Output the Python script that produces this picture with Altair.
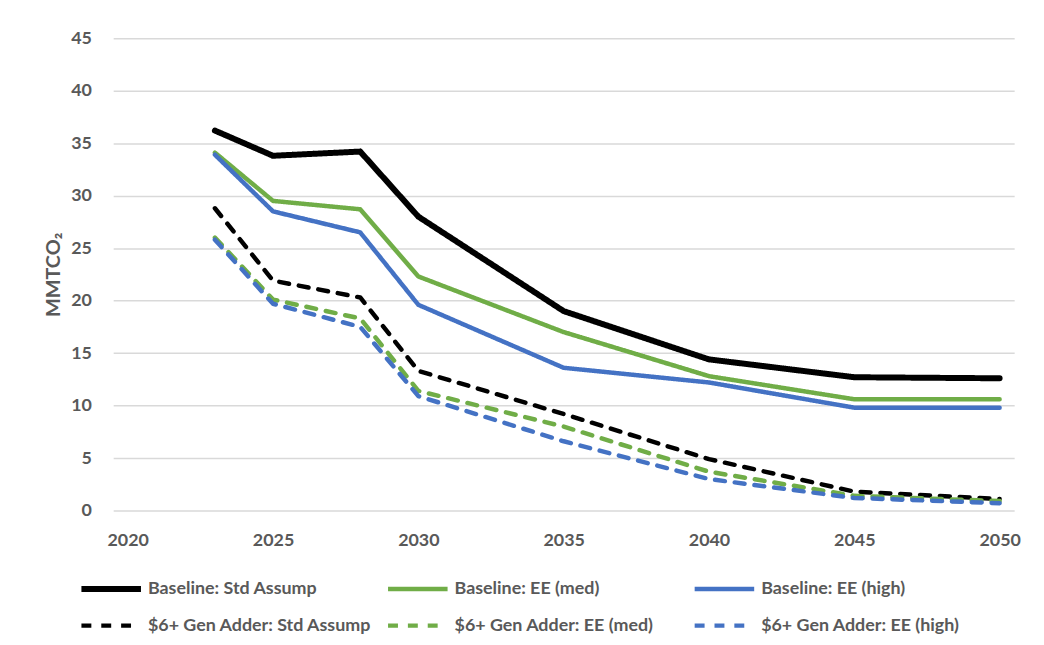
import altair as alt
import pandas as pd

years = [2023, 2025, 2028, 2030, 2035, 2040, 2045, 2050]
series_names = [
    "Baseline: Std Assump",
    "Baseline: EE (med)",
    "Baseline: EE (high)",
    "$6+ Gen Adder: Std Assump",
    "$6+ Gen Adder: EE (med)",
    "$6+ Gen Adder: EE (high)",
]
base_std = [36.2, 33.8, 34.2, 28.0, 19.0, 14.4, 12.7, 12.6]
base_med = [34.1, 29.5, 28.7, 22.3, 17.0, 12.8, 10.6, 10.6]
base_high = [33.9, 28.5, 26.5, 19.6, 13.6, 12.2, 9.8, 9.8]
adder_std = [28.8, 21.9, 20.3, 13.3, 9.2, 4.9, 1.8, 1.1]
adder_med = [26.0, 20.1, 18.3, 11.4, 8.0, 3.7, 1.4, 0.9]
adder_high = [25.8, 19.7, 17.5, 10.9, 6.6, 3.0, 1.2, 0.7]
x_ticks = [2020, 2025, 2030, 2035, 2040, 2045, 2050]
y_ticks = [0, 5, 10, 15, 20, 25, 30, 35, 40, 45]

colors = ["#000000", "#70ad47", "#4472c4", "#000000", "#70ad47", "#4472c4"]
dashes = [[1, 0], [1, 0], [1, 0], [10, 10], [10, 10], [10, 10]]
widths = [6, 4.5, 4.5, 4.5, 4.5, 4.5]

values = [base_std, base_med, base_high, adder_std, adder_med, adder_high]
rows = []
for i, (name, vals) in enumerate(zip(series_names, values)):
    for y, v in zip(years, vals):
        rows.append({"series": name, "order": i, "year": y, "value": v})
df = pd.DataFrame(rows)

FONT = "Lato"
GRAY = "#595959"

chart = (
    alt.Chart(df)
    .mark_line(strokeCap="round", strokeJoin="round")
    .encode(
        x=alt.X(
            "year:Q",
            scale=alt.Scale(domain=[2019.5, 2050.5], nice=False, zero=False),
            axis=alt.Axis(
                values=x_ticks, format="d", title=None, grid=False,
                domain=False, ticks=False, labelPadding=21,
                labelFont=FONT, labelFontSize=18, labelFontWeight="bold",
                labelColor=GRAY,
            ),
        ),
        y=alt.Y(
            "value:Q",
            scale=alt.Scale(domain=[0, 45], nice=False),
            axis=alt.Axis(
                values=y_ticks, title="MMTCO₂", grid=True, gridColor="#d9d9d9",
                gridWidth=1.5, domain=False, ticks=False, labelPadding=22,
                labelFont=FONT, labelFontSize=18, labelFontWeight="bold",
                labelColor=GRAY, titleFont=FONT, titleFontSize=20,
                titleFontWeight="bold", titleColor=GRAY, titlePadding=7,
            ),
        ),
        color=alt.Color(
            "series:N",
            scale=alt.Scale(domain=series_names, range=colors),
            sort=series_names,
            legend=alt.Legend(title=None),
        ),
        strokeDash=alt.StrokeDash(
            "series:N",
            scale=alt.Scale(domain=series_names, range=dashes),
            sort=series_names,
            legend=alt.Legend(title=None),
        ),
        strokeWidth=alt.StrokeWidth(
            "series:N",
            scale=alt.Scale(type="ordinal", domain=series_names, range=widths),
            sort=series_names,
            legend=alt.Legend(title=None),
        ),
        order=alt.Order("order:Q"),
        detail="series:N",
    )
    .properties(
        width=908,
        height=476,
        autosize=alt.AutoSizeParams(type="none"),
        padding={"left": 106, "top": 28, "right": 22, "bottom": 125},
    )
    .configure_view(stroke=None)
    .configure_legend(
        orient="none",
        legendX=-35,
        legendY=545,
        direction="horizontal",
        columns=3,
        gridAlign="all",
        columnPadding=13,
        rowPadding=17,
        clipHeight=20,
        symbolType="stroke",
        symbolSize=3600,
        labelFont=FONT,
        labelFontSize=18,
        labelFontWeight="bold",
        labelColor=GRAY,
        labelLimit=0,
        labelOffset=4,
        padding=0,
    )
)

chart.save("out.html", embed_options={"renderer": "svg", "actions": False})
